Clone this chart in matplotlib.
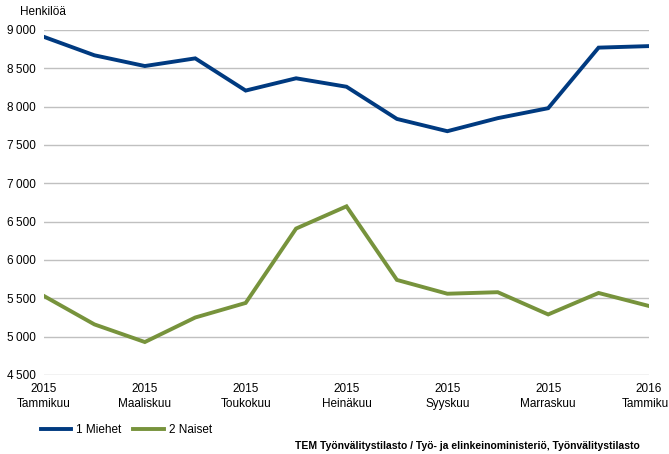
import matplotlib.pyplot as plt
from matplotlib.ticker import FuncFormatter

plt.rcParams['font.family'] = ['Liberation Sans', 'DejaVu Sans']

months = ["Tammikuu", "Helmikuu", "Maaliskuu", "Huhtikuu", "Toukokuu", "Kesäkuu",
          "Heinäkuu", "Elokuu", "Syyskuu", "Lokakuu", "Marraskuu", "Joulukuu", "Tammikuu"]
years = ["2015"] * 12 + ["2016"]
miehet = [8910, 8670, 8530, 8630, 8210, 8370, 8260, 7840, 7680, 7850, 7980, 8770, 8790]
naiset = [5530, 5160, 4930, 5250, 5440, 6410, 6700, 5740, 5560, 5580, 5290, 5570, 5400]

fig = plt.figure(figsize=(6.69, 4.54), dpi=100)
ax = fig.add_axes([44 / 669, 1 - 375 / 454, 605 / 669, 345 / 454])

x = list(range(len(months)))
ax.plot(x, miehet, color="#003A80", lw=2.8, label="1 Miehet", solid_joinstyle="miter")
ax.plot(x, naiset, color="#77933C", lw=2.8, label="2 Naiset", solid_joinstyle="miter")

ax.set_xlim(0, len(months) - 1)
ax.set_ylim(4500, 9000)
ax.set_yticks(range(4500, 9001, 500))
ax.yaxis.set_major_formatter(FuncFormatter(lambda v, p: "{:,}".format(int(v)).replace(",", "\u2009")))
ax.set_xticks(x[::2])
ax.set_xticklabels([years[i] + "\n" + months[i] for i in x[::2]], fontsize=8.5, linespacing=1.35)
ax.tick_params(axis="y", labelsize=8.5, length=0, pad=6)
ax.tick_params(axis="x", length=0, pad=6)
ax.grid(axis="y", color="#C0C0C0", lw=1)
ax.set_axisbelow(True)
for s in ax.spines.values():
    s.set_visible(False)

fig.text(20 / 669, 1 - 12 / 454, "Henkilöä", fontsize=8.5, va="center", ha="left")

ax.legend(loc="center left", bbox_to_anchor=(0.0, 0.5), bbox_transform=fig.transFigure,
          frameon=False, ncol=2, fontsize=8.5, handlelength=2.6, columnspacing=1.0,
          handletextpad=0.4)
leg = ax.get_legend()
leg.set_bbox_to_anchor((30 / 669, 1 - 430 / 454), transform=fig.transFigure)

fig.text(640 / 669, 1 - 446 / 454, "TEM Työnvälitystilasto / Työ- ja elinkeinoministeriö, Työnvälitystilasto",
         fontsize=7.5, fontweight="bold", ha="right", va="center")

fig.savefig("out.png", dpi=100)
